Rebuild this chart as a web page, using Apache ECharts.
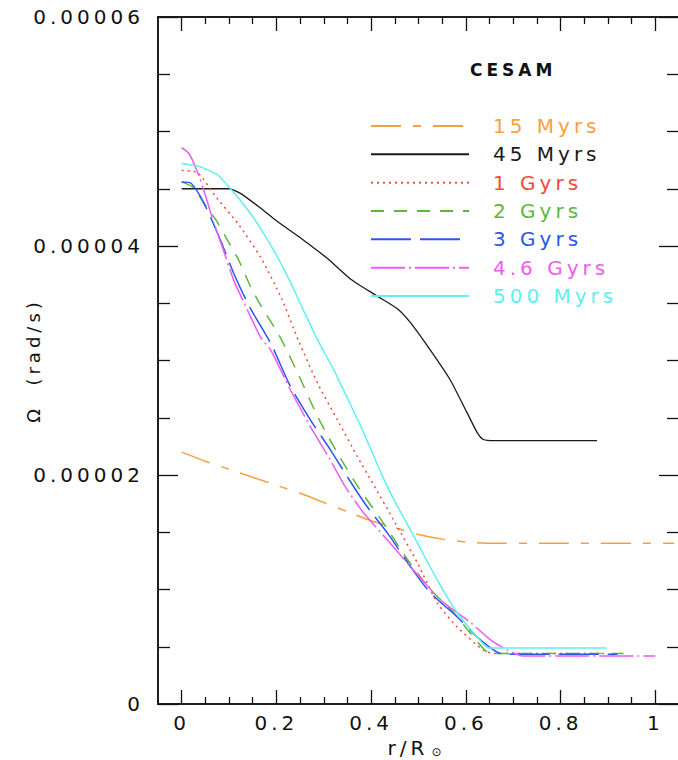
<!DOCTYPE html>
<html>
<head>
<meta charset="utf-8">
<script src="https://cdn.jsdelivr.net/npm/echarts@6/dist/echarts.min.js"></script>
<style>
  html, body { margin: 0; padding: 0; background: #fff; }
  /* the original plot font is wide and loosely spaced */
  #chart { width: 678px; height: 760px; letter-spacing: 4px; }
</style>
</head>
<body>
<div id="chart"></div>
<script>
// omega in units of 1e-5 rad/s, r in units of R_sun
const myr15 = [
  [0, 2.2], [0.05, 2.12], [0.1, 2.05], [0.15, 1.98], [0.2, 1.91], [0.25, 1.84],
  [0.3, 1.76], [0.35, 1.68], [0.4, 1.6], [0.45, 1.54], [0.5, 1.48], [0.55, 1.44],
  [0.6, 1.415], [0.65, 1.405], [0.8, 1.405], [1.04, 1.405]
];
const myr45 = [
  [0, 4.5], [0.05, 4.5], [0.1, 4.5], [0.124, 4.46], [0.167, 4.33], [0.2, 4.22],
  [0.251, 4.07], [0.308, 3.89], [0.357, 3.71], [0.414, 3.56], [0.456, 3.45],
  [0.483, 3.33], [0.525, 3.09], [0.567, 2.83], [0.603, 2.54], [0.624, 2.37],
  [0.637, 2.31], [0.66, 2.3], [0.877, 2.3]
];
const gyr1 = [
  [0, 4.66], [0.034, 4.64], [0.072, 4.43], [0.118, 4.2], [0.167, 3.9], [0.211, 3.54],
  [0.248, 3.16], [0.287, 2.8], [0.329, 2.48], [0.371, 2.16], [0.403, 1.93],
  [0.451, 1.58], [0.498, 1.23], [0.54, 0.88], [0.582, 0.67], [0.637, 0.47],
  [0.66, 0.44], [0.899, 0.44]
];
const gyr2 = [
  [0, 4.56], [0.025, 4.51], [0.046, 4.38], [0.072, 4.23], [0.097, 4.05], [0.12, 3.88],
  [0.146, 3.64], [0.167, 3.48], [0.207, 3.21], [0.245, 2.89], [0.287, 2.51],
  [0.329, 2.19], [0.375, 1.88], [0.426, 1.58], [0.477, 1.26], [0.525, 1.0],
  [0.574, 0.8], [0.616, 0.585], [0.646, 0.45], [0.67, 0.44], [0.933, 0.44]
];
const gyr3 = [
  [0, 4.56], [0.019, 4.55], [0.04, 4.43], [0.061, 4.25], [0.082, 4.05], [0.11, 3.76],
  [0.143, 3.47], [0.188, 3.15], [0.23, 2.77], [0.272, 2.48], [0.314, 2.22],
  [0.355, 1.95], [0.392, 1.72], [0.435, 1.49], [0.483, 1.2], [0.525, 0.97],
  [0.582, 0.76], [0.624, 0.585], [0.667, 0.45], [0.69, 0.435], [0.92, 0.435]
];
const gyr46 = [
  [0, 4.86], [0.015, 4.81], [0.034, 4.64], [0.051, 4.43], [0.068, 4.2], [0.086, 3.99],
  [0.11, 3.7], [0.139, 3.44], [0.167, 3.2], [0.188, 3.09], [0.23, 2.74], [0.272, 2.42],
  [0.314, 2.13], [0.345, 1.9], [0.384, 1.67], [0.435, 1.43], [0.483, 1.2],
  [0.546, 0.91], [0.61, 0.71], [0.652, 0.56], [0.688, 0.47], [0.72, 0.42], [1.0, 0.42]
];
const myr500 = [
  [0, 4.72], [0.04, 4.69], [0.076, 4.62], [0.103, 4.5], [0.135, 4.34], [0.167, 4.15],
  [0.2, 3.92], [0.23, 3.68], [0.257, 3.44], [0.287, 3.18], [0.321, 2.92], [0.35, 2.67],
  [0.384, 2.37], [0.426, 1.97], [0.45, 1.77], [0.483, 1.52], [0.54, 1.08],
  [0.582, 0.795], [0.624, 0.585], [0.648, 0.49], [0.897, 0.49]
];

const xMajor = [0, 0.2, 0.4, 0.6, 0.8, 1];
const xMinor = [0.05, 0.1, 0.15, 0.25, 0.3, 0.35, 0.45, 0.5, 0.55, 0.65, 0.7, 0.75, 0.85, 0.9, 0.95];
const yMajor = [0, 2, 4, 6];
const yMinor = [0.5, 1, 1.5, 2.5, 3, 3.5, 4.5, 5, 5.5];

const font = "DejaVu Sans";
const ink = "#111";

function xAxisAt(position, ticks, len, extra) {
  return Object.assign({
    type: "value", position: position, min: -0.05, max: 1.05,
    axisLine: { show: true, onZero: false, lineStyle: { color: ink, width: 1.5 } },
    axisTick: { show: true, inside: true, length: len, customValues: ticks, lineStyle: { color: ink, width: 1.3 } },
    axisLabel: { show: false },
    splitLine: { show: false }
  }, extra || {});
}

function yAxisAt(position, ticks, len, extra) {
  return Object.assign({
    type: "value", position: position, min: 0, max: 6,
    axisLine: { show: true, onZero: false, lineStyle: { color: ink, width: 1.5 } },
    axisTick: { show: true, inside: true, length: len, customValues: ticks, lineStyle: { color: ink, width: 1.3 } },
    axisLabel: { show: false },
    splitLine: { show: false }
  }, extra || {});
}

const series = [
  { name: "15 Myrs", data: myr15, color: "#f7a040", type: [30, 12, 8, 12] },
  { name: "45 Myrs", data: myr45, color: "#1a1a1a", type: "solid" },
  { name: "1 Gyrs", data: gyr1, color: "#f24a3a", type: [2, 4] },
  { name: "2 Gyrs", data: gyr2, color: "#5cb83a", type: [13, 10] },
  { name: "3 Gyrs", data: gyr3, color: "#2a55f0", type: [40, 9] },
  { name: "4.6 Gyrs", data: gyr46, color: "#ee5cee", type: [34, 4, 2, 4] },
  { name: "500 Myrs", data: myr500, color: "#5ef0f0", type: "solid" }
];

const chart = echarts.init(document.getElementById("chart"), null, { renderer: "svg" });

chart.setOption({
  animation: false,
  backgroundColor: "#fff",
  textStyle: { fontFamily: font },
  title: {
    text: "CESAM", left: 470, top: 61, padding: 0,
    textStyle: { fontFamily: font, fontSize: 17, fontWeight: "bold", color: ink }
  },
  legend: {
    orient: "vertical", left: 370, top: 116, padding: 0,
    itemWidth: 98, itemHeight: 22, itemGap: 8.33,
    itemStyle: { opacity: 0 },
    textStyle: { fontFamily: font, fontSize: 20, padding: [0, 0, 0, 19] },
    data: series.map((s) => ({ name: s.name, textStyle: { color: s.color } }))
  },
  grid: { left: 158, top: 17, right: -1, bottom: 56, containLabel: false, outerBoundsMode: "none" },
  xAxis: [
    xAxisAt("bottom", xMajor, 14, {
      axisLabel: {
        show: true, customValues: xMajor, margin: 9,
        fontFamily: font, fontSize: 20, color: ink,
        formatter: (v) => String(v)
      },
      name: "r/R{sun|⊙}", nameLocation: "middle", nameGap: 30,
      nameTextStyle: {
        fontFamily: font, fontSize: 20, color: ink,
        rich: { sun: { fontFamily: font, fontSize: 12, color: ink, verticalAlign: "bottom", padding: [9, 0, 0, 11] } }
      }
    }),
    xAxisAt("bottom", xMinor, 7),
    xAxisAt("top", xMajor, 14),
    xAxisAt("top", xMinor, 7)
  ],
  yAxis: [
    yAxisAt("left", yMajor, 20, {
      axisLabel: {
        show: true, customValues: yMajor, margin: 14,
        fontFamily: font, fontSize: 20, color: ink,
        formatter: (v) => (v === 0 ? "0" : (v * 1e-5).toFixed(5))
      },
      name: "Ω  (rad/s)", nameLocation: "middle", nameGap: 116,
      nameTextStyle: { fontFamily: font, fontSize: 18, color: ink }
    }),
    yAxisAt("left", yMinor, 12),
    yAxisAt("right", yMajor, 20),
    yAxisAt("right", yMinor, 12)
  ],
  series: series.map((s) => ({
    name: s.name,
    type: "line",
    data: s.data,
    symbol: "none",
    smooth: 0.2,
    color: s.color,
    lineStyle: { color: s.color, width: s.name === "45 Myrs" ? 1.3 : 1.5, type: s.type }
  }))
});
</script>
</body>
</html>
